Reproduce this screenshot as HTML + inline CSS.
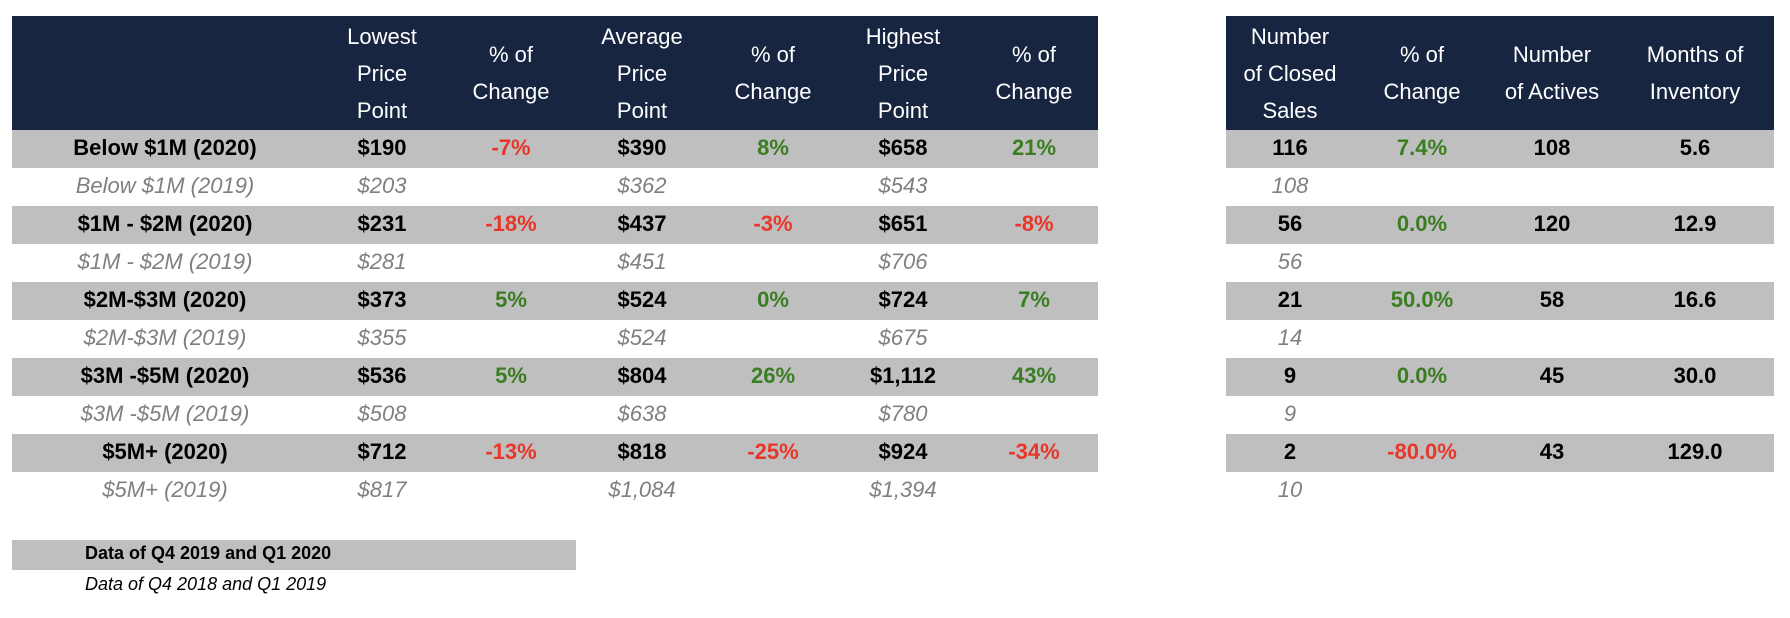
<!DOCTYPE html>
<html><head><meta charset="utf-8"><style>
body{margin:0;width:1790px;height:618px;background:#fff;position:relative;overflow:hidden;font-family:"Liberation Sans",sans-serif}
.hdr{position:absolute;top:16px;height:114px;background:#172540}
.band{position:absolute;height:38px;background:#bfbfbf}
.c{position:absolute;transform:translateX(-50%);white-space:nowrap;text-align:center}
.h{color:#fff;font-size:22px;line-height:37px}
.b{font-weight:bold;font-size:22px;color:#000}
.i{font-style:italic;font-size:22px;color:#808080}
.red{color:#e8372a}.grn{color:#3a7d22}
</style></head><body>
<div class="hdr" style="left:12px;width:1086px"></div>
<div class="hdr" style="left:1226px;width:548px"></div>
<div id="root"></div>
<div style="position:absolute;left:12px;top:540px;width:564px;height:30px;background:#bfbfbf"></div>
<div style="position:absolute;left:85px;top:543px;font-weight:bold;font-size:18px">Data of Q4 2019 and Q1 2020</div>
<div style="position:absolute;left:85px;top:574px;font-style:italic;font-size:18px">Data of Q4 2018 and Q1 2019</div>
<script>
const headers=[["Lowest","Price","Point"],["% of","Change"],["Average","Price","Point"],["% of","Change"],["Highest","Price","Point"],["% of","Change"],["Number","of Closed","Sales"],["% of","Change"],["Number","of Actives"],["Months of","Inventory"]];
const colX=[382,511,642,773,903,1034,1290,1422,1552,1695];
const labels2020=["Below $1M (2020)","$1M - $2M (2020)","$2M-$3M (2020)","$3M -$5M (2020)","$5M+ (2020)"];
const labels2019=["Below $1M (2019)","$1M - $2M (2019)","$2M-$3M (2019)","$3M -$5M (2019)","$5M+ (2019)"];
const low2020=["$190","$231","$373","$536","$712"];
const lowChg=["-7%","-18%","5%","5%","-13%"];
const avg2020=["$390","$437","$524","$804","$818"];
const avgChg=["8%","-3%","0%","26%","-25%"];
const high2020=["$658","$651","$724","$1,112","$924"];
const highChg=["21%","-8%","7%","43%","-34%"];
const sales2020=["116","56","21","9","2"];
const salesChg=["7.4%","0.0%","50.0%","0.0%","-80.0%"];
const actives=["108","120","58","45","43"];
const months=["5.6","12.9","16.6","30.0","129.0"];
const low2019=["$203","$281","$355","$508","$817"];
const avg2019=["$362","$451","$524","$638","$1,084"];
const high2019=["$543","$706","$675","$780","$1,394"];
const sales2019=["108","56","14","9","10"];
const root=document.getElementById('root');
function txt(x,y,cls,t){const d=document.createElement('div');d.className='c '+cls;d.style.left=x+'px';d.style.top=y+'px';d.textContent=t;root.appendChild(d);return d;}
headers.forEach((h,k)=>{
  const top=16+(114-h.length*37)/2;
  const d=txt(colX[k],top,'h',h.join('\n'));d.style.whiteSpace='pre';
  
  
});
const rowH=38,row0=130;
for(let r=0;r<5;r++){
  const y=row0+r*2*rowH, y2=y+rowH;
  ['12px','1086px','1226px','548px'].forEach((v,j)=>{if(j%2)return;
    const b=document.createElement('div');b.className='band';b.style.top=y+'px';b.style.left=v;b.style.width=(j==0?'1086px':'548px');root.appendChild(b);
    
    });
  const ty=y+5, ty2=y2+5;
  const cells=[[165,labels2020[r],'b'],[colX[0],low2020[r],'b'],[colX[1],lowChg[r],'b'],[colX[2],avg2020[r],'b'],[colX[3],avgChg[r],'b'],[colX[4],high2020[r],'b'],[colX[5],highChg[r],'b'],[colX[6],sales2020[r],'b'],[colX[7],salesChg[r],'b'],[colX[8],actives[r],'b'],[colX[9],months[r],'b']];
  cells.forEach(([x,t,c],k)=>{
    let cls=c;if([2,4,6,8].includes(k))cls+=t.startsWith('-')?' red':' grn';
    const d=txt(x,ty,cls,t);
    
    
  });
  [[165,labels2019[r]],[colX[0],low2019[r]],[colX[2],avg2019[r]],[colX[4],high2019[r]],[colX[6],sales2019[r]]].forEach(([x,t])=>{
    const d=txt(x,ty2,'i',t);
    
    
  });
}
</script>
</body></html>
